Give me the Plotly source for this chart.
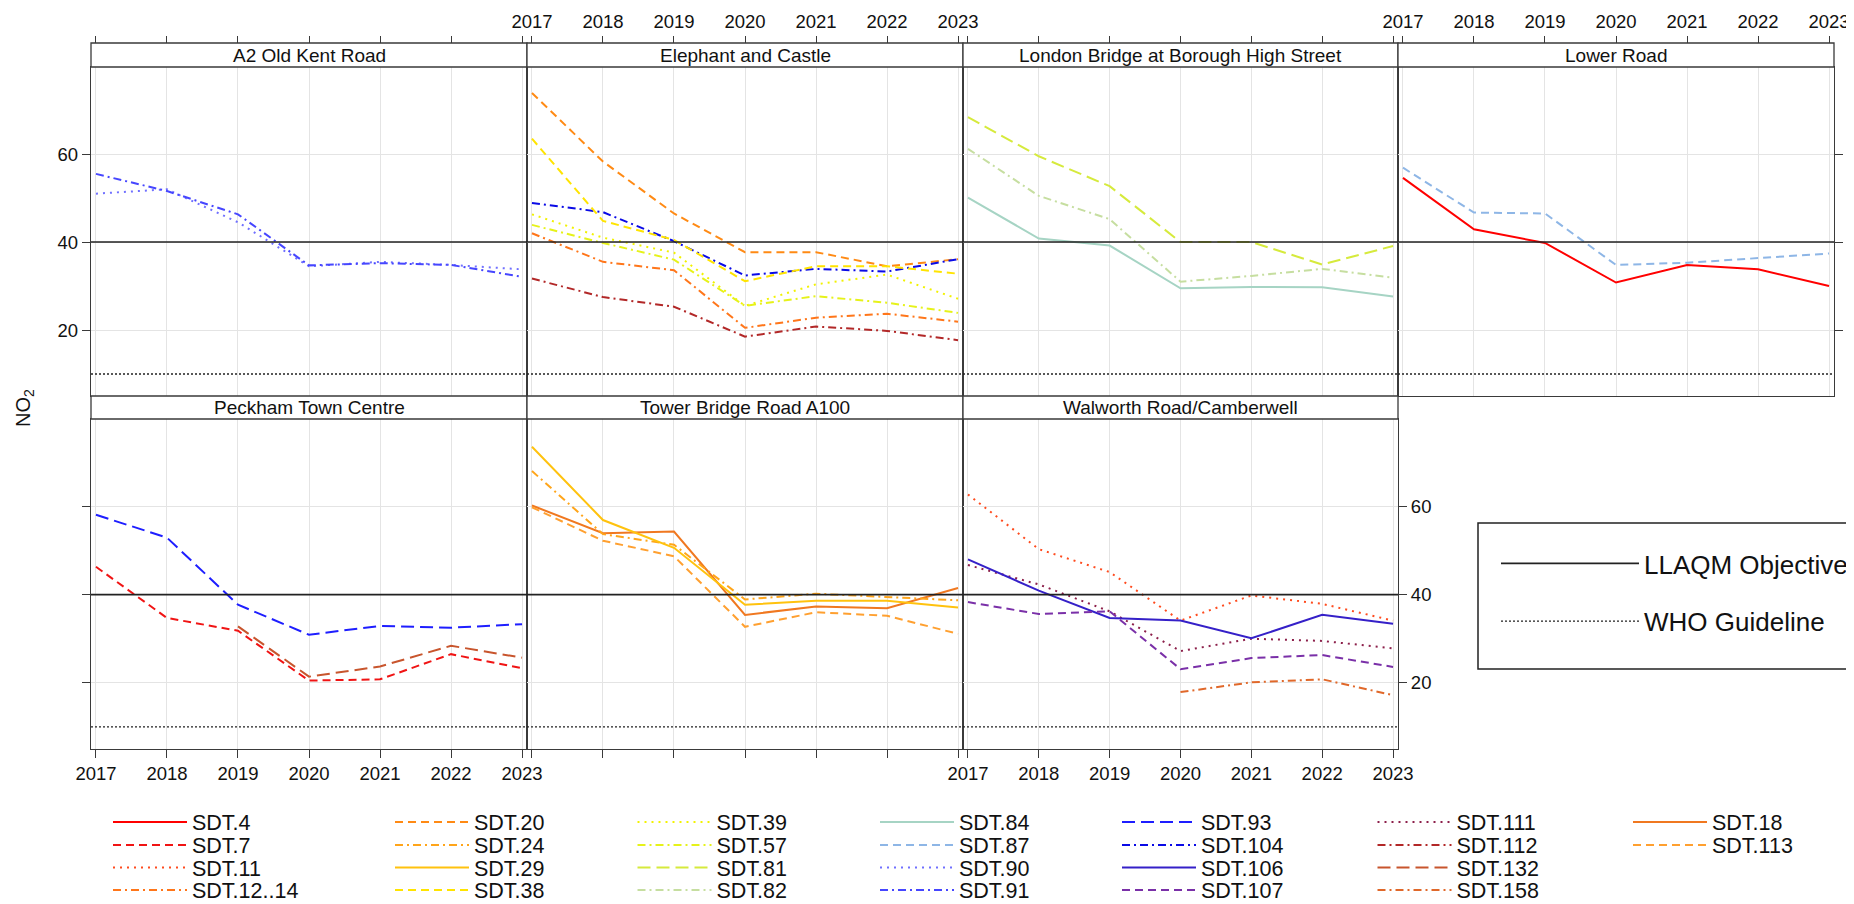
import plotly.graph_objects as go

# ---------------- data ----------------
YEARS = [2017, 2018, 2019, 2020, 2021, 2022, 2023]
SITES = ["A2 Old Kent Road", "Elephant and Castle", "London Bridge at Borough High Street",
         "Lower Road", "Peckham Town Centre", "Tower Bridge Road A100",
         "Walworth Road/Camberwell"]
Y_TICKS = [20, 40, 60]
OBJECTIVE = 40   # LLAQM objective
WHO_GUIDE = 10   # WHO guideline

# annual mean NO2 per diffusion tube (None = not monitored)
SDT_4 = [54.6, 42.9, 39.8, 30.8, 34.8, 33.8, 30.0]
SDT_7 = [46.3, 34.7, 31.8, 20.5, 20.8, 26.5, 23.3]
SDT_11 = [62.7, 50.3, 45.1, 34.1, 39.8, 37.9, 34.1]
SDT_12_14 = [42.0, 35.5, 33.6, 20.5, 22.8, 23.7, 21.9]
SDT_20 = [73.9, 58.3, 46.5, 37.7, 37.7, 34.5, 36.1]
SDT_24 = [68.0, 53.7, 51.3, 38.9, 40.2, 39.4, 38.7]
SDT_29 = [73.5, 56.9, 50.6, 37.7, 38.6, 38.6, 37.1]
SDT_38 = [63.5, 44.8, 40.5, 31.1, 34.5, 34.5, 32.8]
SDT_39 = [46.3, 41.0, 37.6, 25.5, 30.4, 32.6, 27.1]
SDT_57 = [43.9, 39.8, 36.0, 25.5, 27.7, 26.2, 23.9]
SDT_81 = [68.4, 59.5, 52.7, 40.0, 40.0, 34.9, 39.1]
SDT_82 = [61.2, 50.5, 45.2, 31.0, 32.3, 33.9, 31.9]
SDT_84 = [50.1, 40.8, 39.2, 29.5, 29.8, 29.7, 27.6]
SDT_87 = [56.9, 46.7, 46.5, 34.8, 35.3, 36.3, 37.4]
SDT_90 = [51.0, 52.0, 44.5, 34.5, 35.5, 34.8, 33.8]
SDT_91 = [55.5, 51.6, 46.3, 34.7, 35.2, 34.8, 32.1]
SDT_93 = [58.1, 52.9, 37.7, 30.9, 32.9, 32.5, 33.3]
SDT_104 = [48.9, 46.8, 40.2, 32.4, 33.9, 33.3, 36.1]
SDT_106 = [48.0, 40.9, 34.7, 34.1, 30.1, 35.4, 33.4]
SDT_107 = [38.3, 35.6, 36.2, 23.1, 25.6, 26.3, 23.6]
SDT_111 = [46.7, 42.3, 36.2, 27.2, 30.0, 29.5, 27.8]
SDT_112 = [31.7, 27.5, 25.3, 18.5, 20.8, 19.8, 17.7]
SDT_132 = [None, None, 32.8, 21.4, 23.7, 28.4, 25.7]
SDT_158 = [None, None, None, 17.9, 20.1, 20.8, 17.2]
SDT_18 = [60.2, 53.9, 54.3, 35.4, 37.3, 36.9, 41.5]
SDT_113 = [59.8, 52.2, 48.7, 32.7, 36.0, 35.2, 31.1]

VALUES = {
    "SDT.4": SDT_4, "SDT.7": SDT_7, "SDT.11": SDT_11, "SDT.12..14": SDT_12_14,
    "SDT.20": SDT_20, "SDT.24": SDT_24, "SDT.29": SDT_29, "SDT.38": SDT_38,
    "SDT.39": SDT_39, "SDT.57": SDT_57, "SDT.81": SDT_81, "SDT.82": SDT_82,
    "SDT.84": SDT_84, "SDT.87": SDT_87, "SDT.90": SDT_90, "SDT.91": SDT_91,
    "SDT.93": SDT_93, "SDT.104": SDT_104, "SDT.106": SDT_106, "SDT.107": SDT_107,
    "SDT.111": SDT_111, "SDT.112": SDT_112, "SDT.132": SDT_132, "SDT.158": SDT_158,
    "SDT.18": SDT_18, "SDT.113": SDT_113,
}
SITE_OF = {
    "SDT.4": "Lower Road", "SDT.87": "Lower Road",
    "SDT.7": "Peckham Town Centre", "SDT.93": "Peckham Town Centre", "SDT.132": "Peckham Town Centre",
    "SDT.11": "Walworth Road/Camberwell", "SDT.106": "Walworth Road/Camberwell",
    "SDT.107": "Walworth Road/Camberwell", "SDT.111": "Walworth Road/Camberwell",
    "SDT.158": "Walworth Road/Camberwell",
    "SDT.12..14": "Elephant and Castle", "SDT.20": "Elephant and Castle", "SDT.38": "Elephant and Castle",
    "SDT.39": "Elephant and Castle", "SDT.57": "Elephant and Castle", "SDT.104": "Elephant and Castle",
    "SDT.112": "Elephant and Castle",
    "SDT.24": "Tower Bridge Road A100", "SDT.29": "Tower Bridge Road A100",
    "SDT.18": "Tower Bridge Road A100", "SDT.113": "Tower Bridge Road A100",
    "SDT.81": "London Bridge at Borough High Street", "SDT.82": "London Bridge at Borough High Street",
    "SDT.84": "London Bridge at Borough High Street",
    "SDT.90": "A2 Old Kent Road", "SDT.91": "A2 Old Kent Road",
}
# legend columns (column-major, as in the key)
LEGEND_COLUMNS = [
    ["SDT.4", "SDT.7", "SDT.11", "SDT.12..14"],
    ["SDT.20", "SDT.24", "SDT.29", "SDT.38"],
    ["SDT.39", "SDT.57", "SDT.81", "SDT.82"],
    ["SDT.84", "SDT.87", "SDT.90", "SDT.91"],
    ["SDT.93", "SDT.104", "SDT.106", "SDT.107"],
    ["SDT.111", "SDT.112", "SDT.132", "SDT.158"],
    ["SDT.18", "SDT.113"],
]

# ---------------- styles ----------------
COLOR = {
    "SDT.4": "#FF0000", "SDT.7": "#F01414", "SDT.11": "#FF4B1E", "SDT.12..14": "#FF761A",
    "SDT.20": "#FF8A14", "SDT.24": "#FFA51A", "SDT.29": "#FFC20E", "SDT.38": "#FFE400",
    "SDT.39": "#F2F200", "SDT.57": "#E6F21A", "SDT.81": "#D6EA3C", "SDT.82": "#C6DEA0",
    "SDT.84": "#A6D4C4", "SDT.87": "#8EB6E6", "SDT.90": "#7070FF", "SDT.91": "#4646FF",
    "SDT.93": "#1E1EFF", "SDT.104": "#0A0AE6", "SDT.106": "#3520C8", "SDT.107": "#7A30A8",
    "SDT.111": "#8C1F4A", "SDT.112": "#B22828", "SDT.132": "#C8552D", "SDT.158": "#E0682A",
    "SDT.18": "#F07820", "SDT.113": "#FFA030",
}
D_DASH = "8px,5px"
D_LONG = "13px,6px"
D_DOT = "2px,5px"
D_DDOT = "8px,4px,2px,4px"
DASH = {
    "SDT.4": "solid", "SDT.7": D_DASH, "SDT.11": D_DOT, "SDT.12..14": D_DDOT,
    "SDT.20": D_DASH, "SDT.24": D_DDOT, "SDT.29": "solid", "SDT.38": D_DASH,
    "SDT.39": D_DOT, "SDT.57": D_DDOT, "SDT.81": D_LONG, "SDT.82": D_DDOT,
    "SDT.84": "solid", "SDT.87": D_DASH, "SDT.90": D_DOT, "SDT.91": D_DDOT,
    "SDT.93": D_LONG, "SDT.104": D_DDOT, "SDT.106": "solid", "SDT.107": D_DASH,
    "SDT.111": D_DOT, "SDT.112": D_DDOT, "SDT.132": D_LONG, "SDT.158": D_DDOT,
    "SDT.18": "solid", "SDT.113": D_DASH,
}

# ---------------- geometry (screen pixels) ----------------
OFF = 8                      # default page margin around the plot div
W, H = 1854 - OFF, 904 - OFF  # figure size that exactly fills the window
COL_X = [91, 527, 963, 1398, 1834]
ROW_STRIP = [(43, 67), (396, 419)]
ROW_PLOT = [(67, 396), (419, 749)]
XR = [2016.93, 2023.07]
YR = [5.0, 79.8]
FONT = "Arial, 'Liberation Sans', sans-serif"
FRAME = "#3A3A3A"
GRID = "#E4E4E4"
TICKFONT = dict(family=FONT, size=18.5, color="#111111")


def px(x):
    return (x - OFF) / W


def py(y):
    return 1 - (y - OFF) / H


def panel_pos(i):
    return (0, i) if i < 4 else (1, i - 4)


def ax_id(n):
    return "" if n == 1 else str(n)


# key layout: each key row is split in three horizontal legends
KEY_ROW_Y = [822, 845, 867.5, 890]
KEY_GROUPS = [(0, 1, 197, 200.0), (1, 4, 479, 242.5), (4, 7, 1206, 255.5)]  # cols, text x, step
ITEMW = 74


def legend_name(r, g):
    k = g * 4 + r + 1
    return "legend" if k == 1 else f"legend{k}"


fig = go.Figure()

for r in range(4):
    for g, (c0, c1, _, _) in enumerate(KEY_GROUPS):
        for c in range(c0, c1):
            col = LEGEND_COLUMNS[c]
            if r >= len(col):
                continue
            name = col[r]
            n = SITES.index(SITE_OF[name]) + 1
            fig.add_trace(go.Scatter(
                x=YEARS, y=VALUES[name], name=name, mode="lines",
                line=dict(color=COLOR[name], width=2, dash=DASH[name]),
                xaxis="x" + ax_id(n), yaxis="y" + ax_id(n),
                legend=legend_name(r, g), connectgaps=False, showlegend=True,
            ))

layout = {}
shapes = []
annotations = []
Y_TICK_MODE = {0: "left_lab", 3: "right", 4: "left", 6: "right_lab"}
X_BOTTOM = {4: True, 5: False, 6: True}
TOP_LABELS = {0: False, 1: True, 2: False, 3: True}
STRIP_H = ROW_STRIP[0][1] - ROW_STRIP[0][0]

for i, site in enumerate(SITES):
    r, c = panel_pos(i)
    n = i + 1
    s = ax_id(n)
    xa = dict(domain=[px(COL_X[c]), px(COL_X[c + 1])], range=XR, tickvals=YEARS,
              anchor="y" + s, showgrid=True, gridcolor=GRID, gridwidth=1, zeroline=False,
              showline=True, mirror=True, linecolor=FRAME, linewidth=1.3,
              ticks="", showticklabels=False, tickfont=TICKFONT, fixedrange=True)
    if i in X_BOTTOM:
        xa.update(ticks="outside", ticklen=8, tickcolor=FRAME, tickwidth=1.3,
                  showticklabels=X_BOTTOM[i])
    if i in TOP_LABELS:
        # top axis sits above the strip: ticks run under the strip (covered by it)
        xa.update(side="top", ticks="outside", ticklen=STRIP_H + 6, tickcolor=FRAME,
                  tickwidth=1.3, showticklabels=TOP_LABELS[i])
    ya = dict(domain=[py(ROW_PLOT[r][1]), py(ROW_PLOT[r][0])], range=YR, tickvals=Y_TICKS,
              anchor="x" + s, showgrid=True, gridcolor=GRID, gridwidth=1, zeroline=False,
              showline=True, mirror=True, linecolor=FRAME, linewidth=1.3,
              ticks="", showticklabels=False, tickfont=TICKFONT, fixedrange=True)
    mode = Y_TICK_MODE.get(i)
    if mode:
        ya.update(ticks="outside", ticklen=8, tickcolor=FRAME, tickwidth=1.3,
                  side="right" if mode.startswith("right") else "left",
                  showticklabels=mode.endswith("lab"))
    layout["xaxis" + s] = xa
    layout["yaxis" + s] = ya

    # strip
    shapes.append(dict(type="rect", xref="paper", yref="paper",
                       x0=px(COL_X[c]), x1=px(COL_X[c + 1]),
                       y0=py(ROW_STRIP[r][1]), y1=py(ROW_STRIP[r][0]),
                       line=dict(color=FRAME, width=1.3), fillcolor="white", layer="above"))
    annotations.append(dict(text=site, xref="paper", yref="paper",
                            x=(px(COL_X[c]) + px(COL_X[c + 1])) / 2,
                            y=(py(ROW_STRIP[r][0]) + py(ROW_STRIP[r][1])) / 2,
                            showarrow=False, xanchor="center", yanchor="middle",
                            font=dict(family=FONT, size=19, color="#111111")))
    # reference lines
    shapes.append(dict(type="line", xref="x" + s + " domain", x0=0, x1=1,
                       yref="y" + s, y0=OBJECTIVE, y1=OBJECTIVE, layer="above",
                       line=dict(color="#222222", width=1.6),
                       showlegend=(i == 0), legend="legend13", name="LLAQM Objective",
                       legendgroup="obj"))
    shapes.append(dict(type="line", xref="x" + s + " domain", x0=0, x1=1,
                       yref="y" + s, y0=WHO_GUIDE, y1=WHO_GUIDE, layer="above",
                       line=dict(color="#222222", width=1.3, dash="2px,2px"),
                       showlegend=(i == 0), legend="legend13", name="WHO Guideline",
                       legendgroup="who"))

# box around the reference-line key
shapes.append(dict(type="rect", xref="paper", yref="paper", x0=px(1478), x1=px(1880),
                   y0=py(669), y1=py(523), line=dict(color="#222222", width=1.5),
                   fillcolor="rgba(0,0,0,0)", layer="above"))

annotations.append(dict(text="NO<sub>2</sub>", xref="paper", yref="paper", x=px(24), y=py(408),
                        textangle=-90, showarrow=False, xanchor="center", yanchor="middle",
                        font=dict(family=FONT, size=20, color="#111111")))

# ---------- keys ----------
LEG_FONT = dict(family=FONT, size=21.5, color="#111111")
for r in range(4):
    for g, (c0, c1, text_x, step) in enumerate(KEY_GROUPS):
        layout[legend_name(r, g)] = dict(
            orientation="h", x=px(text_x - ITEMW - 15), xanchor="left",
            y=py(KEY_ROW_Y[r]), yanchor="middle", font=LEG_FONT,
            itemwidth=ITEMW, bgcolor="rgba(0,0,0,0)", borderwidth=0,
            entrywidth=step - ITEMW - 15, itemclick=False, itemdoubleclick=False)
layout["legend13"] = dict(orientation="v", x=px(1496), xanchor="left", y=py(540), yanchor="top",
                          font=dict(family=FONT, size=26, color="#111111"), itemwidth=138,
                          tracegroupgap=21, bgcolor="rgba(0,0,0,0)", borderwidth=0,
                          itemclick=False, itemdoubleclick=False)

fig.update_layout(**layout)
fig.update_layout(
    width=W, height=H, autosize=False, showlegend=True,
    margin=dict(l=0, r=0, t=0, b=0, autoexpand=False),
    paper_bgcolor="white", plot_bgcolor="white",
    shapes=shapes, annotations=annotations,
    font=dict(family=FONT, color="#111111"),
    hovermode=False,
)
fig.write_html("out.html")
